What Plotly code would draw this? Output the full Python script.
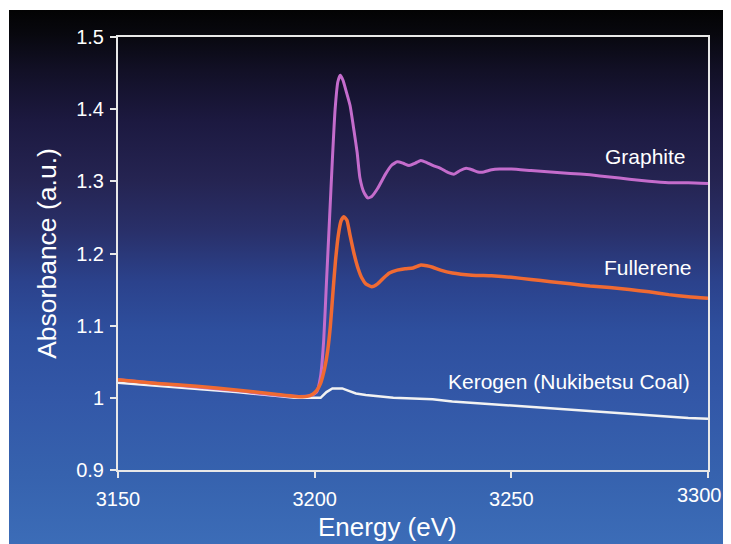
import base64
import plotly.graph_objects as go

# ---------------- data ----------------
graphite_e = [3150, 3160, 3170, 3180, 3190, 3196, 3199, 3200.5, 3201.5, 3202.3, 3203, 3203.8,
              3204.5, 3205.2, 3205.9, 3206.5, 3207.2, 3208, 3209, 3210, 3210.8, 3211.5, 3212.5,
              3213.5, 3214.5, 3216, 3218, 3219.5, 3221, 3222.5, 3224, 3225.5, 3227, 3228.5,
              3230, 3232, 3234, 3235.5, 3237, 3238.5, 3240, 3241.5, 3243, 3245, 3247, 3250,
              3255, 3260, 3265, 3270, 3275, 3280, 3285, 3290, 3295, 3300]
graphite_v = [1.025, 1.020, 1.015, 1.010, 1.004, 1.002, 1.003, 1.008, 1.03, 1.08, 1.16, 1.25,
              1.33, 1.40, 1.438, 1.447, 1.440, 1.425, 1.405, 1.37, 1.34, 1.305, 1.285,
              1.277, 1.279, 1.290, 1.310, 1.322, 1.327, 1.325, 1.322, 1.325, 1.329, 1.326,
              1.322, 1.318, 1.312, 1.310, 1.315, 1.318, 1.316, 1.313, 1.313, 1.316, 1.317, 1.317,
              1.315, 1.313, 1.311, 1.309, 1.306, 1.303, 1.300, 1.298, 1.298, 1.297]

fullerene_e = [3150, 3160, 3170, 3180, 3190, 3195, 3198, 3199.5, 3200.5, 3201.5, 3202.5, 3203.3,
               3204, 3204.7, 3205.3, 3206, 3206.7, 3207.4, 3208.2, 3209, 3210, 3211, 3212,
               3213, 3214.5, 3216, 3217.5, 3219, 3221, 3223, 3225, 3227, 3228.5, 3230, 3232,
               3235, 3240, 3245, 3250, 3255, 3260, 3265, 3270, 3275, 3280, 3285, 3290, 3295, 3300]
fullerene_v = [1.025, 1.020, 1.016, 1.011, 1.005, 1.002, 1.002, 1.005, 1.010, 1.020, 1.040, 1.065,
               1.10, 1.15, 1.19, 1.225, 1.245, 1.251, 1.246, 1.225, 1.200, 1.180, 1.166,
               1.158, 1.154, 1.158, 1.166, 1.173, 1.177, 1.179, 1.180, 1.184, 1.183, 1.181, 1.177,
               1.173, 1.170, 1.169, 1.167, 1.164, 1.161, 1.158, 1.155, 1.153, 1.150, 1.147, 1.143, 1.140, 1.138]

kerogen_e = [3150, 3160, 3170, 3180, 3190, 3195, 3201.5, 3203, 3204.5, 3207, 3208.5, 3210.5,
             3213, 3216, 3220, 3225, 3230, 3235, 3240, 3245, 3250, 3255, 3260, 3265, 3270,
             3275, 3280, 3285, 3290, 3295, 3300]
kerogen_v = [1.021, 1.017, 1.013, 1.008, 1.003, 1.000, 1.000, 1.008, 1.013, 1.013, 1.010, 1.006,
             1.004, 1.002, 1.000, 0.999, 0.998, 0.995, 0.993, 0.991, 0.990, 0.988, 0.986, 0.984, 0.982,
             0.980, 0.978, 0.975, 0.973, 0.972, 0.971]

x_ticks = [3150, 3200, 3250, 3300]
x_tick_labels = ["3150", "3200", "3250", "3300"]
y_ticks = [0.9, 1.0, 1.1, 1.2, 1.3, 1.4, 1.5]
y_tick_labels = ["0.9", "1", "1.1", "1.2", "1.3", "1.4", "1.5"]

x_title = "Energy (eV)"
y_title = "Absorbance (a.u.)"

labels = ["Graphite", "Fullerene", "Kerogen (Nukibetsu Coal)"]
label_x = [3284.2, 3284.8, 3264.7]
label_y = [1.334, 1.181, 1.022]

# ---------------- layout geometry (figure sits at page offset 8,8; width limited to 715) ----------------
W, H = 715, 536
L, T = 110, 29
pw, ph = 590, 433
R = W - L - pw
B = H - T - ph

def px_to_paper_x(px):
    return (px - L) / pw

def py_to_paper_y(py):
    return (H - B - py) / ph

# vertical background gradient as an SVG image (styling)
bg_top, bg_bottom = 2, H
stops_y = [2, 27, 62, 112, 172, 222, 272, 322, 392, 462, 536]
stops_c = ["#030303", "#08080f", "#121026", "#1c1940", "#252452", "#29306a",
           "#2b428c", "#2e4f9e", "#3358a8", "#3662ae", "#3c6db8"]
stop_xml = "".join(
    f'<stop offset="{(y - bg_top) / (bg_bottom - bg_top):.4f}" stop-color="{c}"/>'
    for y, c in zip(stops_y, stops_c))
svg = ('<svg xmlns="http://www.w3.org/2000/svg" width="100" height="100" preserveAspectRatio="none">'
       '<defs><linearGradient id="g" x1="0" y1="0" x2="0" y2="1">' + stop_xml +
       '</linearGradient></defs><rect width="100" height="100" fill="url(#g)"/></svg>')
svg_uri = "data:image/svg+xml;base64," + base64.b64encode(svg.encode()).decode()

bg_image = dict(source=svg_uri, xref="paper", yref="paper",
                x=px_to_paper_x(1), y=py_to_paper_y(bg_top),
                sizex=(W + 20) / pw, sizey=(bg_bottom + 4 - bg_top) / ph,
                xanchor="left", yanchor="top", sizing="stretch", layer="below")

fig = go.Figure()
fig.add_trace(go.Scatter(x=kerogen_e, y=kerogen_v, mode="lines",
                         line=dict(color="#f2f2f2", width=2.5), name="Kerogen"))
fig.add_trace(go.Scatter(x=graphite_e, y=graphite_v, mode="lines",
                         line=dict(color="#c46ccc", width=3, shape="spline", smoothing=0.5), name="Graphite"))
fig.add_trace(go.Scatter(x=fullerene_e, y=fullerene_v, mode="lines",
                         line=dict(color="#f06a32", width=3.5, shape="spline", smoothing=0.5), name="Fullerene"))

FONT = "Liberation Sans, Arial, Helvetica"
axis_font = dict(family=FONT, size=20, color="white")

annotations = [dict(x=lx, y=ly, text=t, showarrow=False, xref="x", yref="y",
                    font=dict(family=FONT, size=21, color="white"))
               for t, lx, ly in zip(labels, label_x, label_y)]
# last x tick label would run past the figure edge; draw it as right-aligned text instead
annotations.append(dict(x=px_to_paper_x(W), y=-13 / ph, xref="paper", yref="paper",
                        text=x_tick_labels[-1], showarrow=False, xanchor="right", yanchor="top",
                        borderpad=0, font=axis_font))
# x-axis title (placed slightly left of centre, as in the original)
annotations.append(dict(x=px_to_paper_x(379.5), y=py_to_paper_y(519), xref="paper", yref="paper",
                        text=x_title, showarrow=False, xanchor="center", yanchor="middle",
                        font=dict(family=FONT, size=26, color="white")))

fig.update_layout(
    width=W, height=H,
    margin=dict(l=L, r=R, t=T, b=B, pad=0),
    paper_bgcolor="white",
    plot_bgcolor="rgba(0,0,0,0)",
    showlegend=False,
    images=[bg_image],
    annotations=annotations,
    xaxis=dict(range=[3150, 3300], tickvals=x_ticks, ticktext=x_tick_labels[:-1] + [""],
               ticks="outside", ticklen=6, tickcolor="#e8e8e8", tickwidth=1.5,
               showline=True, linecolor="#e8e8e8", linewidth=2, mirror=True,
               showgrid=False, zeroline=False, tickfont=axis_font, ticklabelstandoff=4),
    yaxis=dict(range=[0.9, 1.5], tickvals=y_ticks, ticktext=y_tick_labels, ticks="outside", ticklen=6,
               tickcolor="#e8e8e8", tickwidth=1.5,
               showline=True, linecolor="#e8e8e8", linewidth=2, mirror=True,
               showgrid=False, zeroline=False, tickfont=axis_font, ticklabelstandoff=2,
               title=dict(text=y_title, font=dict(family=FONT, size=26.5, color="white"),
                          standoff=12)),
)

fig.write_html("out.html")
